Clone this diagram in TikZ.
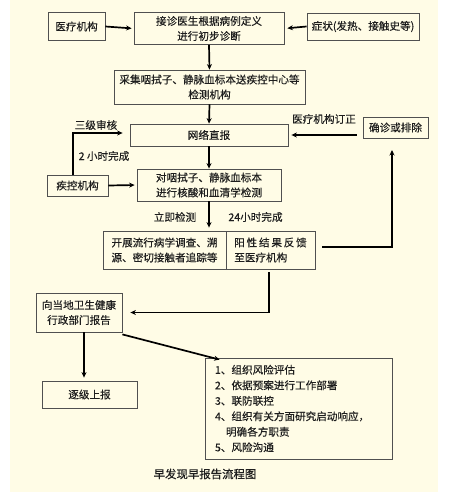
\documentclass[tikz,border=0pt]{standalone}
\usepackage{fontspec}
\setmainfont{Noto Sans CJK SC}
\newfontfamily\mfont{Noto Sans CJK SC}[FakeBold=0.35]
\usetikzlibrary{arrows.meta}
\definecolor{bgc}{HTML}{FFFCE6}
\definecolor{bord}{HTML}{505050}
\definecolor{txt}{HTML}{1E1E1E}
\tikzset{
  box/.style={draw=bord, line width=0.8pt, inner sep=0pt, align=center, text=txt,
    font=\mfont\fontsize{10.6}{15}\selectfont},
  arr/.style={line width=1.7pt, -{Stealth[length=5.5pt,width=5pt]}},
  lbl/.style={text=txt, font=\mfont\fontsize{10.6}{15}\selectfont, inner sep=0pt}
}
\begin{document}
\begin{tikzpicture}[x=1pt,y=-1pt]
\useasboundingbox (0,0) rectangle (453,492);
\fill[bgc] (10,0) rectangle (438,492);
% nodes
\node[box, minimum width=57pt, minimum height=28pt] (med) at (76.5,26.5) {医疗机构};
\node[box, minimum width=150pt, minimum height=32pt] (diag) at (209,28.5) {接诊医生根据病例定义\\进行初步诊断};
\node[box, minimum width=112pt, minimum height=27pt] (sym) at (363,26.5) {症状(发热、接触史等)};
\node[box, minimum width=191pt, minimum height=34pt] (coll) at (209.5,87) {采集咽拭子、静脉血标本送疾控中心等\\检测机构};
\node[box, minimum width=158pt, minimum height=22pt] (net) at (209,135) {网络直报};
\node[box, minimum width=65pt, minimum height=21pt] (conf) at (395.5,127.5) {确诊或排除};
\node[box, minimum width=61pt, minimum height=21pt] (cdc) at (77.5,185.5) {疾控机构};
\node[box, minimum width=144pt, minimum height=32pt] (test) at (209,185) {对咽拭子、静脉血标本\\进行核酸和血清学检测};
\node[box, minimum width=123pt, minimum height=38pt] (splitL) at (164.5,250) {开展流行病学调查、溯\\源、密切接触者追踪等};
\node[box, minimum width=89pt, minimum height=38pt, align=left] (splitR) at (270.5,250) {阳\,性\,结\,果\,反\,馈\\至医疗机构\hspace{11pt}};
\node[box, minimum width=86pt, minimum height=39pt] (rep) at (79,312.5) {向当地卫生健康\\行政部门报告};
\node[box, minimum width=95pt, minimum height=27pt] (up) at (89.5,394.5) {逐级上报};
\node[box, minimum width=187pt, minimum height=101pt, align=left, text width=167pt,
  font=\mfont\fontsize{10.6}{15.5}\selectfont] (big) at (298.5,408.5)
  {1、组织风险评估\\2、依据预案进行工作部署\\3、联防联控\\4、组织有关方面研究启动响应，\\\hspace*{11pt}明确各方职责\\5、风险沟通};
% labels
\node[lbl] (l1) at (96,125) {三级审核};
\node[lbl] (l2) at (104,156) {2 小时完成};
\node[lbl] (l3) at (324,119) {医疗机构订正};
\node[lbl] (l4) at (175,217) {立即检测};
\node[lbl] (l5) at (255.5,217) {24小时完成};
\node[lbl, font=\mfont\fontsize{11.4}{15}\selectfont] (cap) at (205,474) {早发现早报告流程图};
% connectors
\coordinate (c1) at (392,150);
\draw[arr, shorten >=2pt] (med.east) -- (diag.west);
\draw[arr, shorten >=3pt] (sym.west) -- (diag.east);
\draw[arr] (diag.south) -- (coll.north);
\draw[arr] (coll.south) -- (net.north);
\draw[arr, shorten >=3pt] ([xshift=-6pt]conf.west |- net.east) -- (net.east);
\draw[arr, shorten >=7pt] ([xshift=-4.5pt]cdc.north) |- ([yshift=2pt]net.west);
\draw[arr] (net.south) -- (test.north);
\draw[arr, shorten >=2pt] (cdc.east) -- (test.west);
\draw[arr, shorten >=3pt] (test.south) -- (test.south |- splitL.north);
\draw[arr] ([xshift=7pt,yshift=3pt]splitR.east) -| (c1);
\draw[arr, shorten >=8pt] ([xshift=-1.5pt,yshift=-3pt]splitR.south) |- (rep.east);
\draw[arr, shorten >=3pt] ([xshift=5pt]rep.south) -- ([xshift=5pt]rep.south |- up.north);
\draw[arr] ([yshift=-2pt]rep.south east) -- ([xshift=15pt,yshift=-2pt]big.north west);
\end{tikzpicture}
\end{document}
